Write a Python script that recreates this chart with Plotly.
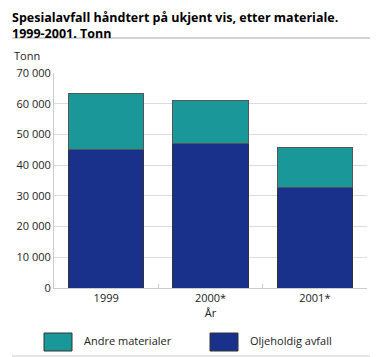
import plotly.graph_objects as go

years = ["1999", "2000*", "2001*"]
olje = [45000, 47000, 32700]
andre = [18300, 14200, 13000]
series_names = ["Oljeholdig avfall", "Andre materialer"]
colors = {"Oljeholdig avfall": "#1a318c", "Andre materialer": "#1a9899"}
ytick_vals = [0, 10000, 20000, 30000, 40000, 50000, 60000, 70000]

FONT = "Open Sans"
FS = 11
TXT = "#222222"

# page body adds an 8px offset, so the figure is sized/placed to compensate
fig = go.Figure()
fig.add_trace(go.Bar(x=years, y=olje, name=series_names[0],
                     marker=dict(color=colors[series_names[0]], line=dict(color="#333333", width=1))))
fig.add_trace(go.Bar(x=years, y=andre, name=series_names[1],
                     marker=dict(color=colors[series_names[1]], line=dict(color="#555555", width=1))))

fig.update_layout(
    barmode="stack",
    bargap=0.28,
    width=374, height=349,
    margin=dict(l=46, r=15, t=65, b=69, autoexpand=False),
    paper_bgcolor="white", plot_bgcolor="white",
    showlegend=False,
    separators=", ",
    font=dict(family=FONT, size=FS, color=TXT),
)
fig.update_yaxes(range=[0, 70000], tickvals=ytick_vals, tickformat=",d", automargin=False,
                 showgrid=True, gridcolor="#dcdcdc", gridwidth=1,
                 showline=True, linecolor="#cccccc", linewidth=1,
                 zeroline=False, ticks="", ticklen=0,
                 tickfont=dict(family=FONT, size=FS, color=TXT))
fig.update_xaxes(showline=True, linecolor="#cccccc", linewidth=1, automargin=False,
                 ticks="inside", tickson="boundaries", ticklen=4, tickcolor="#cccccc",
                 tickfont=dict(family=FONT, size=FS, color=TXT),
                 title=dict(text="År", font=dict(family=FONT, size=FS, color=TXT), standoff=2))

# Title (two lines) and unit
title_text = "<b>Spesialavfall håndtert på ukjent vis, etter materiale.<br>1999-2001. Tonn</b>"
fig.add_annotation(text=title_text, xref="paper", yref="paper",
                   x=-43/313, y=1 + 64.5 / 215, xanchor="left", yanchor="top",
                   align="left", showarrow=False, borderpad=0,
                   font=dict(family=FONT, size=12.5, color="#000000"))
fig.add_annotation(text="Tonn", xref="paper", yref="paper", x=-42/313, y=1 + 18/215,
                   xanchor="left", yanchor="middle", showarrow=False,
                   font=dict(family=FONT, size=FS, color=TXT))

# Rules
fig.add_shape(type="line", xref="paper", yref="paper", x0=-42/313, x1=1 + 3/313,
              y0=1 + 35/215, y1=1 + 35/215, line=dict(color="#aaaaaa", width=1))
fig.add_shape(type="line", xref="paper", yref="paper", x0=-42/313, x1=1 + 3/313,
              y0=-68/215, y1=-68/215, line=dict(color="#cccccc", width=1))

# Legend drawn manually
legend_items = [(series_names[1], 44, 82), (series_names[0], 210, 248)]
for name, bx, tx in legend_items:
    x0 = (bx - 54) / 313
    x1 = (bx + 28 - 54) / 313
    y0 = (288 - 351) / 215
    y1 = (288 - 333) / 215
    fig.add_shape(type="rect", xref="paper", yref="paper", x0=x0, x1=x1, y0=y0, y1=y1,
                  fillcolor=colors[name], line=dict(color="#333333", width=1))
    fig.add_annotation(text=name, xref="paper", yref="paper", x=(tx - 54) / 313,
                       y=(288 - 340) / 215, xanchor="left", yanchor="middle", showarrow=False,
                       font=dict(family=FONT, size=FS, color=TXT))

fig.write_html("out.html", config={"displayModeBar": False})
